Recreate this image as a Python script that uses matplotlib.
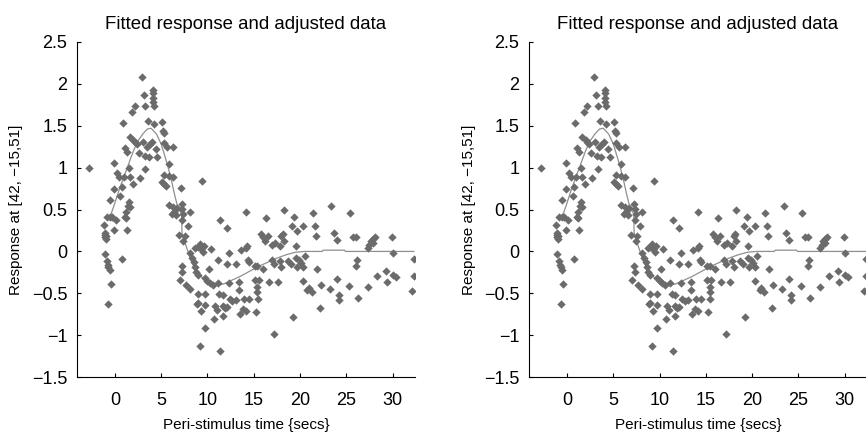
import numpy as np
import matplotlib
matplotlib.use("Agg")
import matplotlib.pyplot as plt

# adjusted data: peri-stimulus time (secs) and response
t_data = [
    -2.8,
    -1.2, -1.05, -1.1, -0.95, -1.0, -1.05, -0.9, -0.5, -0.3, 0.14, -1.05, -0.9, -0.75, -0.7,
    -0.5, -0.43, -0.7, -0.1, -0.5, -0.1, -0.1, 0.2, 0.4, 0.6, 0.75, 0.75,
    1.0, 1.2, 1.1, 1.2, 1.3, 1.5, 1.4, 1.65, 1.5, 1.65, 1.1, 1.3, 0.9, 1.6, 1.8, 1.9,
    2.0, 2.2, 2.4, 2.2, 2.7, 2.9, 2.6, 3.0, 3.1, 3.3, 3.3, 3.2, 3.6, 3.5, 3.7, 3.8,
    4.0, 4.1, 4.1, 4.1, 4.1, 4.2, 4.2, 4.6, 4.4,
    5.1, 5.2, 5.3, 5.3, 5.6, 6.25, 5.8, 5.3, 5.8, 6.3, 5.1, 5.3, 5.5, 7.1, 5.8, 6.25,
    6.7, 7.2, 7.3, 6.2, 6.4, 6.6, 7.4, 7.3, 6.9, 7.6, 7.4, 7.9, 7.2, 7.3, 7.0, 7.7, 8.1,
    8.1, 8.3, 8.5, 8.6, 8.8, 9.4, 8.1, 9.2, 8.7, 9.0, 9.3, 9.6, 9.5, 10.4, 10.2, 9.0,
    9.7, 10.0, 10.3, 10.6, 9.0, 9.7, 9.0, 9.7, 9.3, 9.7, 9.2, 8.9,
    11.4, 12.1, 11.1, 12.3, 12.1, 11.1, 12.3, 11.3, 12.4, 12.7, 13.1, 11.7, 11.9, 12.1,
    11.0, 11.7, 10.7, 11.4, 10.8, 11.7, 13.1,
    13.4, 13.4, 13.9, 14.5, 15.5, 13.8, 13.5, 15.2, 14.2, 14.2, 13.6, 14.2, 14.4, 14.3,
    14.5, 15.1, 15.4, 15.1, 15.6, 15.4, 15.4, 16.0, 16.3, 15.8, 16.0, 16.2, 16.5,
    16.6, 17.6, 17.0, 17.2, 17.8, 18.0, 17.2, 17.0, 17.3, 17.8, 18.3, 18.3, 18.0, 18.2,
    18.7, 19.0, 19.6, 19.7, 19.2, 19.4, 19.1, 19.7, 19.6, 19.9, 20.1, 20.3,
    20.3, 21.4, 21.6, 21.7, 20.3, 20.8, 21.0, 21.3, 21.8, 22.3, 22.2, 23.4, 23.7, 24.0,
    23.2, 24.0, 24.2, 24.2, 25.4, 25.7, 26.0, 25.3, 26.2, 26.0, 26.3, 20.5,
    27.3, 27.5, 27.7, 27.9, 28.1, 27.9, 27.3, 28.3, 29.3, 29.4, 30.0, 30.4, 29.9, 30.0,
    32.3, 32.3, 32.1,
]
y_data = [
    1.00,
    0.32, 0.20, 0.17, 0.19, 0.15, 0.22, 0.41, 0.41, 0.41, 0.37, -0.03, -0.12, -0.16, -0.19,
    -0.22, -0.39, -0.63, 0.26, 0.61, 0.75, 1.05, 0.94, 0.89, 0.66, 0.77, -0.09,
    0.89, 0.47, 0.41, 0.40, 0.25, 0.59, 0.54, 0.53, 0.99, 0.89, 1.23, 1.19, 1.53, 1.37, 1.66, 0.80,
    1.33, 1.30, 1.28, 1.73, 0.88, 2.08, 1.17, 1.30, 1.87, 1.74, 0.98, 1.14, 1.56, 1.25, 1.13, 1.28,
    1.30, 1.93, 1.89, 1.83, 1.78, 1.74, 1.52, 1.13, 1.22,
    1.55, 1.44, 1.41, 1.29, 1.25, 1.25, 1.04, 0.91, 0.90, 0.89, 0.83, 0.80, 0.78, 0.76, 0.55, 0.53,
    0.52, 0.57, 0.51, 0.45, 0.47, 0.44, 0.45, 0.38, 0.20, 0.18, 0.12, 0.30, -0.17, -0.25, -0.34, -0.40, -0.45,
    -0.02, -0.08, -0.13, -0.19, -0.24, 0.84, 0.47, 0.09, 0.04, 0.05, 0.03, 0.06, -0.01, 0.03, -0.21, -0.28,
    -0.32, -0.35, -0.38, -0.40, -0.51, -0.51, -0.62, -0.64, -0.71, -0.91, -1.13, -0.63,
    0.37, 0.28, -0.10, -0.02, -0.15, -0.38, -0.38, -0.51, -0.57, -0.59, -0.58, -0.65, -0.68, -0.66,
    -0.70, -0.77, -0.81, -1.19, -0.65, -0.52, -0.15,
    -0.36, -0.46, -0.57, -0.57, -0.57, -0.69, -0.75, -0.72, -0.71, 0.47, 0.02, 0.04, -0.10, 0.06,
    -0.13, -0.17, -0.17, -0.34, -0.34, -0.42, -0.48, -0.21, 0.40, 0.21, 0.17, 0.12, 0.18,
    -0.36, -0.36, -0.10, -0.15, -0.12, -0.18, -0.99, 0.08, 0.10, 0.07, 0.12, 0.49, 0.18, 0.21,
    -0.12, -0.15, -0.08, -0.18, -0.78, 0.41, 0.30, 0.24, 0.07, -0.10, -0.14, -0.19,
    0.30, 0.46, 0.30, 0.18, -0.35, -0.46, -0.44, -0.48, -0.21, -0.40, -0.67, 0.54, 0.22, 0.14,
    -0.45, -0.33, -0.52, -0.58, 0.46, 0.17, 0.17, -0.41, -0.10, -0.17, -0.56, -0.05,
    0.04, 0.08, 0.12, 0.15, 0.17, 0.10, -0.43, -0.29, -0.23, -0.37, -0.28, -0.30, 0.17, -0.02,
    -0.09, -0.29, -0.47,
]

# fitted response
t_fit = [-0.5, 0.0, 0.5, 1.0, 1.5, 2.0, 2.5, 3.0, 3.5, 3.9, 4.5, 5.0, 5.5, 6.0, 6.4, 6.8,
         7.2, 7.25, 7.7, 8.2, 8.6, 9.0, 9.5, 10.0, 10.5, 11.0, 11.7, 12.5, 13.5, 14.5,
         15.5, 16.5, 17.5, 18.5, 19.5, 20.5, 22.4, 22.5, 24.8, 24.9, 32.3]
y_fit = [0.42, 0.58, 0.75, 0.90, 1.05, 1.20, 1.32, 1.40, 1.46, 1.47, 1.40, 1.28, 1.10, 0.90,
         0.70, 0.52, 0.45, 0.22, 0.06, -0.10, -0.20, -0.26, -0.32, -0.36, -0.39, -0.40, -0.39,
         -0.35, -0.30, -0.24, -0.18, -0.13, -0.08, -0.04, -0.01, 0.0, 0.0, 0.015, 0.015, 0.0, 0.0]

y_ticks = [-1.5, -1, -0.5, 0, 0.5, 1, 1.5, 2, 2.5]
y_labels = ["\u22121.5", "\u22121", "\u22120.5", "0", "0.5", "1", "1.5", "2", "2.5"]
x_ticks = [0, 5, 10, 15, 20, 25, 30]

plt.rcParams['font.family'] = ['Liberation Sans', 'DejaVu Sans']

fig = plt.figure(figsize=(8.66, 4.32), dpi=100)
fig.set_facecolor('white')

for left in (0.0889, 0.611):
    ax = fig.add_axes([left, 0.127, 0.390, 0.776])
    ax.plot(t_fit, y_fit, color='#8f8f8f', lw=0.9, zorder=2)
    ax.scatter(t_data, y_data, marker='D', s=18, color='#6b6b6b', linewidths=0, zorder=3)

    ax.set_xlim(-4.1, 32.4)
    ax.set_ylim(-1.5, 2.5)
    ax.set_xticks(x_ticks)
    ax.set_yticks(y_ticks)
    ax.set_yticklabels(y_labels)
    for side in ('top', 'right'):
        ax.spines[side].set_visible(False)
    for side in ('left', 'bottom'):
        ax.spines[side].set_linewidth(0.8)
    ax.tick_params(direction='in', length=3, width=0.8, labelsize=13)
    ax.tick_params(axis='x', pad=11)
    ax.tick_params(axis='y', pad=7)

    ax.set_title('Fitted response and adjusted data', fontsize=13.4, pad=9)
    ax.set_xlabel('Peri-stimulus time {secs}', fontsize=11, labelpad=6)
    ax.set_ylabel('Response at [42, \u221215,51]', fontsize=11, labelpad=6)

fig.savefig('out.png', dpi=100)
